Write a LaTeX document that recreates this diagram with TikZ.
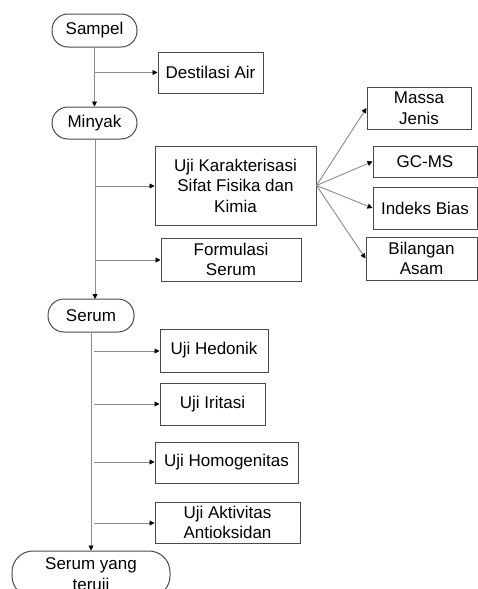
\documentclass[tikz,border=0pt]{standalone}
\usepackage{fontspec}
\setmainfont{Liberation Sans}
\usetikzlibrary{arrows.meta}
\definecolor{bordc}{HTML}{4A4A4A}
\definecolor{linec}{HTML}{8A8A8A}
\tikzset{
  box/.style={draw=bordc, line width=1pt, inner sep=0pt, align=center, font=\fontsize{17}{20.5}\selectfont},
  term/.style={box, rounded corners=16pt},
  conn/.style={draw=linec, line width=0.9pt, -{Triangle[length=5pt,width=5pt,color=black]}},
  trunk/.style={draw=linec, line width=0.9pt}
}
\begin{document}
\begin{tikzpicture}[x=1pt,y=-1pt]
\useasboundingbox (0,0) rectangle (478,589);
\clip (0,0) rectangle (478,589);
% terminals
\node[term, minimum width=85pt, minimum height=33pt] (sampel) at (94.5,30.5) {Sampel};
\node[term, minimum width=85pt, minimum height=32pt] (minyak) at (94.5,123) {Minyak};
\node[term, minimum width=86pt, minimum height=33pt] (serum) at (91,315.5) {Serum};
\node[box, rounded corners=21pt, minimum width=158pt, minimum height=46pt, text depth=0pt] (teruji) at (91,574) {Serum yang\\teruji};
% boxes
\node[box, minimum width=105pt, minimum height=41pt] (destilasi) at (210.5,72.5) {Destilasi Air};
\node[box, minimum width=161pt, minimum height=79pt] (karak) at (235.5,185.5) {Uji Karakterisasi\\Sifat Fisika dan\\Kimia};
\node[box, minimum width=140pt, minimum height=43pt] (formulasi) at (231,259.5) {Formulasi\\Serum};
\node[box, minimum width=104pt, minimum height=42pt] (massa) at (419,108) {Massa\\Jenis};
\node[box, minimum width=104pt, minimum height=31pt] (gcms) at (425,161.5) {GC-MS};
\node[box, minimum width=104pt, minimum height=42pt] (indeks) at (425,208) {Indeks Bias};
\node[box, minimum width=111pt, minimum height=43pt] (bilangan) at (421.5,258.5) {Bilangan\\Asam};
\node[box, minimum width=108pt, minimum height=43pt] (hedonik) at (214,350.5) {Uji Hedonik};
\node[box, minimum width=105pt, minimum height=42pt] (iritasi) at (212.5,404) {Uji Iritasi};
\node[box, minimum width=143pt, minimum height=41pt] (homog) at (226.5,462.5) {Uji Homogenitas};
\node[box, minimum width=145pt, minimum height=41pt] (aktiv) at (227.5,522.5) {Uji Aktivitas\\Antioksidan};
% trunk coordinates
\coordinate (b1) at (94.5,72.5);
\coordinate (b2) at (95,186);
\coordinate (b3) at (95,260);
\coordinate (c1) at (94,351);
\coordinate (c2) at (94,404);
\coordinate (c3) at (94,462);
\coordinate (c4) at (94,523);
% main flow
\draw[conn] (sampel.south) -- (minyak.north);
\draw[conn] (b1) -- (b1 -| destilasi.west);
\draw[conn] (minyak.south) ++(0.5,0) -- (95,299);
\draw[conn] (b2) -- (b2 -| karak.west);
\draw[conn] (b3) -- (b3 -| formulasi.west);
\draw[conn] (serum.south) -- (teruji.north);
\draw[conn] (c1) -- (c1 -| hedonik.west);
\draw[conn] (c2) -- (c2 -| iritasi.west);
\draw[conn] (c3) -- (c3 -| homog.west);
\draw[conn] (c4) -- (c4 -| aktiv.west);
% fan
\coordinate (fan) at (karak.east);
\draw[conn] (fan) -- (massa.west);
\draw[conn] (fan) -- (gcms.west);
\draw[conn] (fan) -- (indeks.west);
\draw[conn] (fan) -- (bilangan.west);
\end{tikzpicture}
\end{document}
